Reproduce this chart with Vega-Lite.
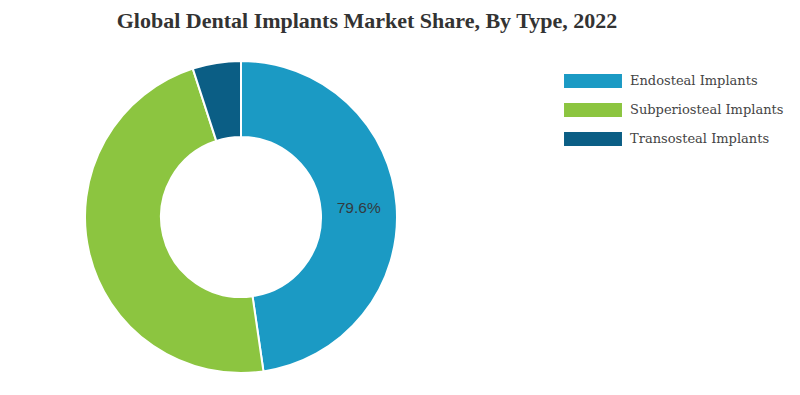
{
  "$schema": "https://vega.github.io/schema/vega-lite/v6.json",
  "autosize": "none",
  "padding": {"left": 0, "top": 61, "right": 318, "bottom": 22},
  "width": 482,
  "height": 312,
  "background": "white",
  "title": {
    "text": "Global Dental Implants Market Share, By Type, 2022",
    "font": "Liberation Serif",
    "fontSize": 22,
    "fontWeight": "bold",
    "color": "#333333",
    "anchor": "middle",
    "dx": 126,
    "offset": 24
  },
  "data": {
    "values": [
      {"type": "Endosteal Implants", "share": 47.7, "rank": 1, "label": "79.6%"},
      {"type": "Subperiosteal Implants", "share": 47.3, "rank": 2, "label": ""},
      {"type": "Transosteal Implants", "share": 5.0, "rank": 3, "label": ""}
    ]
  },
  "encoding": {
    "theta": {"field": "share", "type": "quantitative", "stack": true},
    "order": {"field": "rank", "type": "quantitative"},
    "color": {
      "field": "type",
      "type": "nominal",
      "scale": {
        "domain": ["Endosteal Implants", "Subperiosteal Implants", "Transosteal Implants"],
        "range": ["#1b9ac4", "#8cc540", "#0b5e85"]
      },
      "legend": {
        "title": null,
        "orient": "none",
        "legendX": 586,
        "legendY": 13,
        "padding": 0,
        "symbolType": "M-4.14,-1H4.14V1H-4.14Z",
        "symbolSize": 196,
        "symbolStrokeWidth": 0,
        "symbolOpacity": 1,
        "labelOffset": 30,
        "rowPadding": 15,
        "labelFont": "DejaVu Serif",
        "labelFontSize": 13,
        "labelColor": "#444444",
        "labelLimit": 300
      }
    }
  },
  "layer": [
    {
      "mark": {"type": "arc", "innerRadius": 80, "outerRadius": 156, "stroke": "white", "strokeWidth": 2}
    },
    {
      "mark": {"type": "text", "radius": 118, "font": "Liberation Sans", "fontSize": 15.5, "color": "#333333"},
      "encoding": {
        "text": {"field": "label", "type": "nominal"},
        "color": {"value": "#333a40"}
      }
    }
  ]
}
